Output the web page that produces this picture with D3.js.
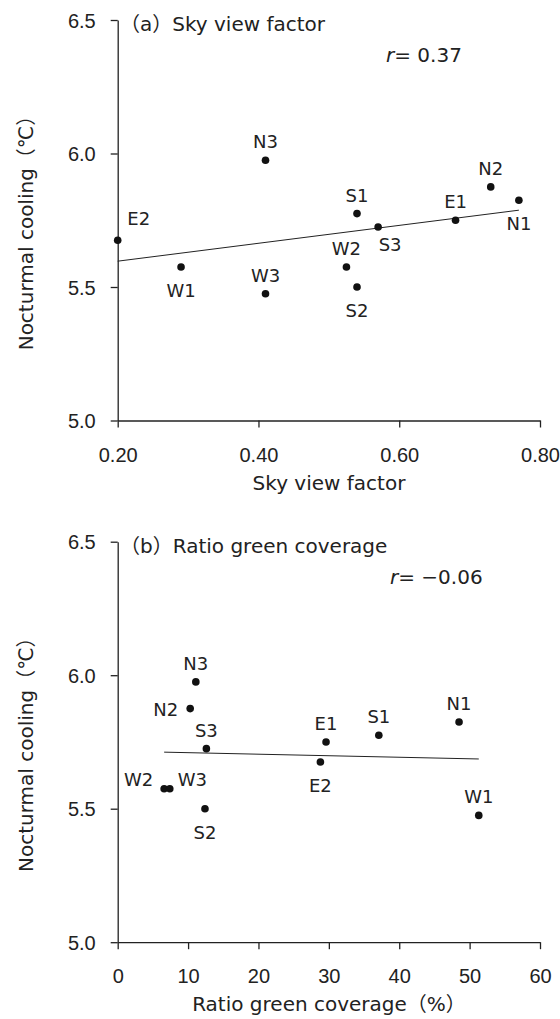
<!DOCTYPE html>
<html>
<head>
<meta charset="utf-8">
<script src="https://cdn.jsdelivr.net/npm/d3@7"></script>
<style>
  body { margin: 0; background: #fff; }
  svg { display: block; }
  .tick text { font-family: "Liberation Sans", Arial, sans-serif; font-size: 20px; fill: #222; }
  .domain, .tick line { stroke: #222; stroke-width: 1.3; }
  .txt { font-family: "DejaVu Sans", "Noto Sans CJK JP", sans-serif; fill: #222; }
</style>
</head>
<body>
<svg id="chart" width="560" height="1019"></svg>
<script>
// panel (a) - sky view factor
const sitesA = ['E2', 'W1', 'W3', 'W2', 'S2', 'N3', 'S1', 'S3', 'E1', 'N2', 'N1'];
const skyView = [0.20, 0.29, 0.41, 0.525, 0.54, 0.41, 0.54, 0.57, 0.68, 0.73, 0.77];
const coolingA = [5.675, 5.575, 5.475, 5.575, 5.50, 5.975, 5.775, 5.725, 5.75, 5.875, 5.825];
const placeA = ['ne', 'below', 'above', 'above', 'below', 'above', 'above', 'se', 'above', 'above', 'below'];

// panel (b) - ratio green coverage
const sitesB = ['W2', 'W3', 'N2', 'N3', 'S3', 'S2', 'E2', 'E1', 'S1', 'N1', 'W1'];
const greenRatio = [6.6, 7.4, 10.3, 11.1, 12.6, 12.4, 28.8, 29.6, 37.1, 48.5, 51.3];
const coolingB = [5.575, 5.575, 5.875, 5.975, 5.725, 5.50, 5.675, 5.75, 5.775, 5.825, 5.475];
const placeB = ['upleft', 'upright', 'left', 'above', 'above', 'below', 'below', 'above', 'above', 'above', 'above'];

const yTicks = [5.0, 5.5, 6.0, 6.5];
const xTicksA = [0.2, 0.4, 0.6, 0.8];
const xTicksB = [0, 10, 20, 30, 40, 50, 60];
const rLabels = ['0.37', '\u22120.06'];

// label offsets relative to dot
const offsets = {
    above:   { dx: 0,   dy: -12, anchor: 'middle' },
    below:   { dx: 0,   dy: 30,  anchor: 'middle' },
    ne:      { dx: 21,  dy: -15, anchor: 'middle' },
    se:      { dx: 12,  dy: 24,  anchor: 'middle' },
    left:    { dx: -12, dy: 7,   anchor: 'end' },
    upleft:  { dx: -11, dy: -3,  anchor: 'end' },
    upright: { dx: 8,   dy: -3,  anchor: 'start' }
};

const svg = d3.select('#chart');

function drawPanel(opt) {
    const x = d3.scaleLinear().domain(opt.xDomain).range([117.7, 540]);
    const y = d3.scaleLinear().domain([5.0, 6.5]).range([opt.top + 400.5, opt.top]);

    const g = svg.append('g');

    g.append('g')
        .attr('transform', `translate(0,${y(5.0)})`)
        .call(d3.axisBottom(x).tickValues(opt.xTicks).tickFormat(opt.fmt).tickSize(7).tickSizeOuter(0))
        .call(a => a.selectAll('.tick text').attr('dy', '1.55em'));

    g.append('g')
        .attr('transform', `translate(${x(opt.xDomain[0])},0)`)
        .call(d3.axisLeft(y).tickValues(yTicks).tickFormat(d3.format('.1f')).tickSize(7).tickSizeOuter(0))
        .call(a => a.selectAll('.tick text').attr('x', -22).attr('dy', '0.36em'));

    // regression line
    const data = opt.xs.map((v, i) => ({ x: v, y: opt.ys[i], name: opt.names[i], place: opt.place[i] }));
    const mx = d3.mean(data, d => d.x), my = d3.mean(data, d => d.y);
    const slope = d3.sum(data, d => (d.x - mx) * (d.y - my)) / d3.sum(data, d => (d.x - mx) ** 2);
    const ends = d3.extent(data, d => d.x);
    g.append('line')
        .attr('x1', x(ends[0])).attr('y1', y(my + slope * (ends[0] - mx)))
        .attr('x2', x(ends[1])).attr('y2', y(my + slope * (ends[1] - mx)))
        .attr('stroke', '#222').attr('stroke-width', 1);

    g.selectAll('circle')
        .data(data)
        .join('circle')
        .attr('cx', d => x(d.x))
        .attr('cy', d => y(d.y))
        .attr('r', 3.8)
        .attr('fill', '#111');

    g.selectAll('text.lbl')
        .data(data)
        .join('text')
        .attr('class', 'txt lbl')
        .attr('x', d => x(d.x) + offsets[d.place].dx)
        .attr('y', d => y(d.y) + offsets[d.place].dy)
        .attr('text-anchor', d => offsets[d.place].anchor)
        .style('font-size', '18px')
        .text(d => d.name);

    // panel title
    g.append('text')
        .attr('class', 'txt')
        .attr('x', 120)
        .attr('y', opt.top + 11)
        .style('font-size', '20px')
        .text(opt.title);

    // correlation
    const r = g.append('text')
        .attr('class', 'txt')
        .attr('x', opt.rx)
        .attr('y', opt.top + 42)
        .style('font-size', '20px');
    r.append('tspan').attr('font-style', 'italic').text('r');
    r.append('tspan').text('= ' + opt.r);

    // axis titles
    g.append('text')
        .attr('class', 'txt')
        .attr('x', 329)
        .attr('y', y(5.0) + 69)
        .attr('text-anchor', 'middle')
        .style('font-size', '20px')
        .text(opt.xTitle);

    g.append('text')
        .attr('class', 'txt')
        .attr('transform', `translate(33,${opt.top + 208}) rotate(-90)`)
        .attr('text-anchor', 'middle')
        .style('font-size', '20px')
        .text('Nocturmal cooling\uff08\u2103\uff09');
}

drawPanel({
    top: 20, xDomain: [0.2, 0.8], xTicks: xTicksA, fmt: d3.format('.2f'),
    xs: skyView, ys: coolingA, names: sitesA, place: placeA,
    title: '\uff08a\uff09Sky view factor', r: rLabels[0], rx: 386,
    xTitle: 'Sky view factor'
});

drawPanel({
    top: 541.7, xDomain: [0, 60], xTicks: xTicksB, fmt: d3.format('d'),
    xs: greenRatio, ys: coolingB, names: sitesB, place: placeB,
    title: '\uff08b\uff09Ratio green coverage', r: rLabels[1], rx: 390,
    xTitle: 'Ratio green coverage\uff08%\uff09'
});
</script>
</body>
</html>
